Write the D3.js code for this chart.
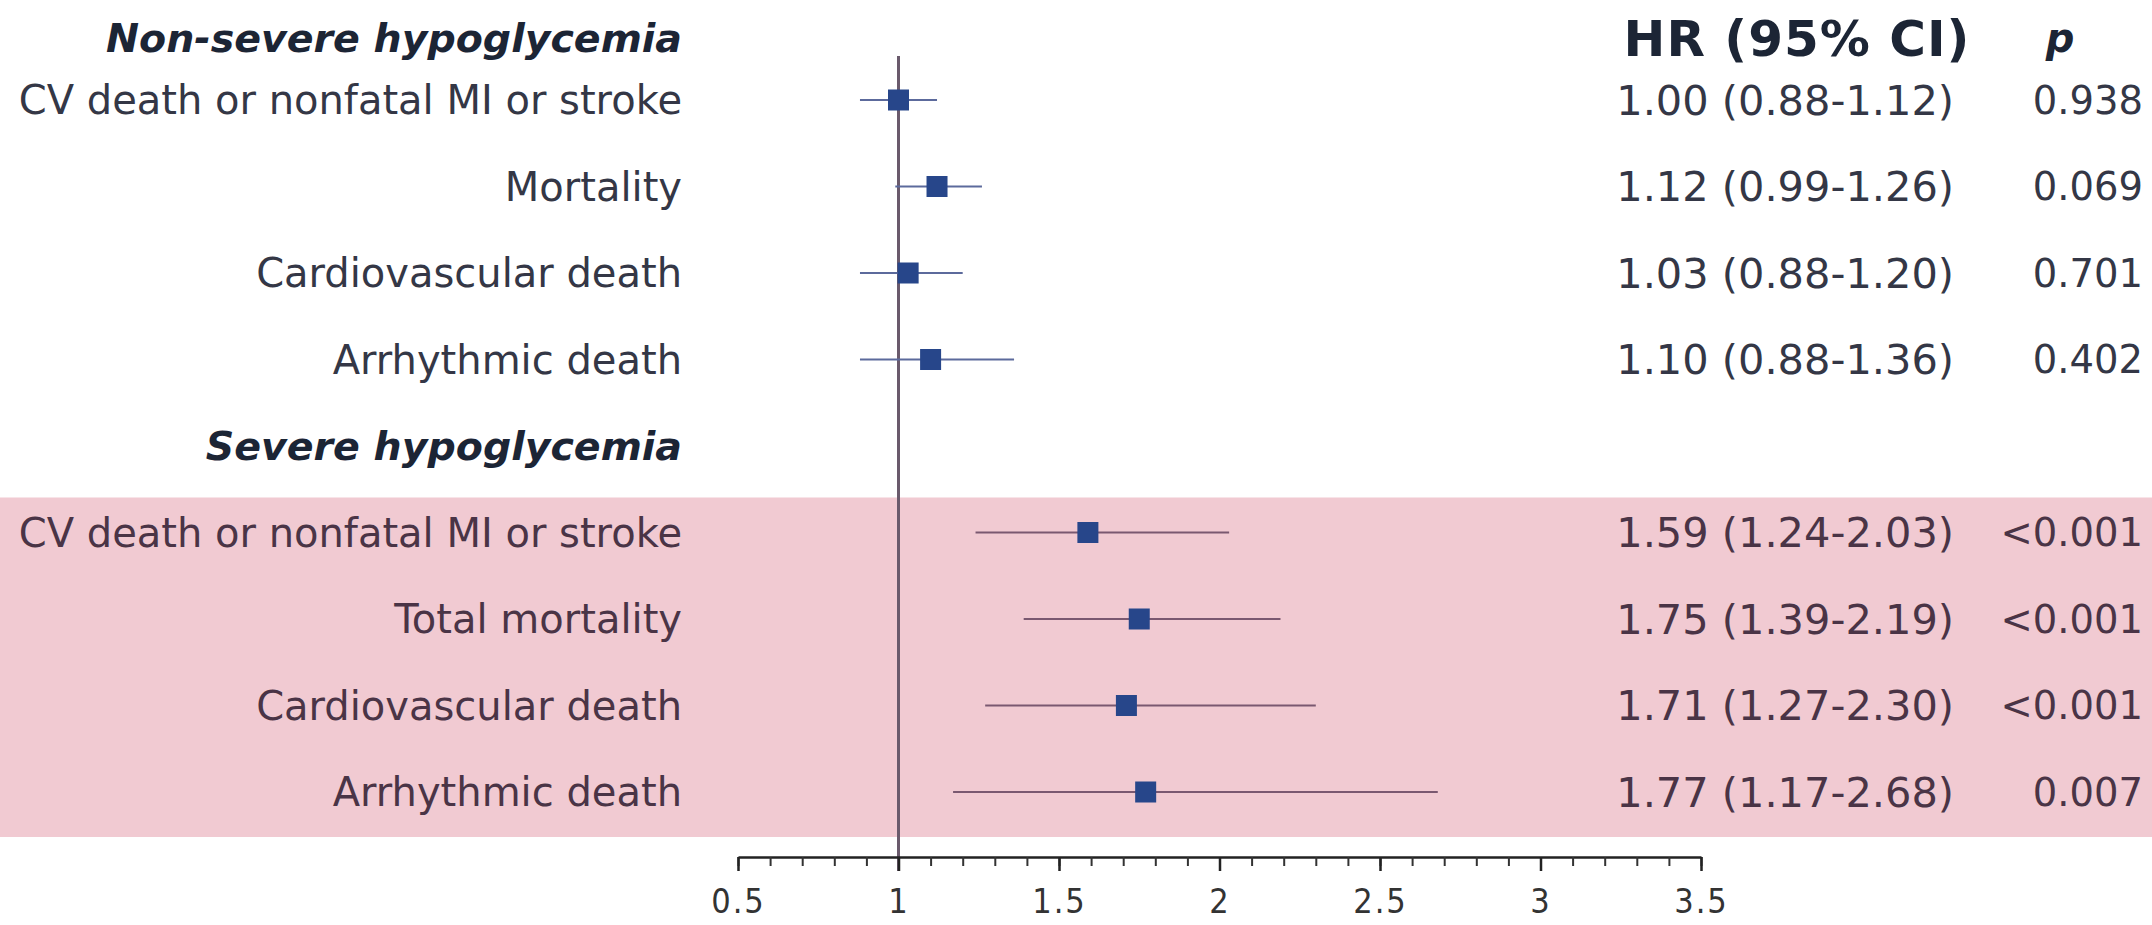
<!DOCTYPE html>
<html>
<head>
<meta charset="utf-8">
<script src="https://cdn.jsdelivr.net/npm/d3@7"></script>
<style>
  html, body { margin: 0; padding: 0; background: #ffffff; }
  svg { display: block; }
</style>
</head>
<body>
<svg id="chart" width="2152" height="925"></svg>
<script>
// ---- data ----
const groupTitles = ["Non-severe hypoglycemia", "Severe hypoglycemia"];
const nonSevereLabels = ["CV death or nonfatal MI or stroke", "Mortality", "Cardiovascular death", "Arrhythmic death"];
const severeLabels = ["CV death or nonfatal MI or stroke", "Total mortality", "Cardiovascular death", "Arrhythmic death"];
const hrValues = [1.00, 1.12, 1.03, 1.10, 1.59, 1.75, 1.71, 1.77];
const lowerCI  = [0.88, 0.99, 0.88, 0.88, 1.24, 1.39, 1.27, 1.17];
const upperCI  = [1.12, 1.26, 1.20, 1.36, 2.03, 2.19, 2.30, 2.68];
const pValues  = ["0.938", "0.069", "0.701", "0.402", "<0.001", "<0.001", "<0.001", "0.007"];
const tickValues = [0.5, 1, 1.5, 2, 2.5, 3, 3.5];
const tickLabels = ["0.5", "1", "1.5", "2", "2.5", "3", "3.5"];
const columnHeaders = ["HR (95% CI)", "p"];

// ---- layout ----
const W = 2152, H = 925;
const svg = d3.select("#chart");
const fontBody = "'DejaVu Sans', Verdana, sans-serif";

const rows = [];
nonSevereLabels.forEach((l, i) => rows.push({key: "a" + i, label: l, idx: i, group: 0}));
rows.push({key: "h2", header: groupTitles[1]});
severeLabels.forEach((l, i) => rows.push({key: "b" + i, label: l, idx: i + 4, group: 1}));

const y = d3.scalePoint().domain(rows.map(r => r.key)).range([100, 792]);
const headerY = y(rows[0].key) - 62;
const x = d3.scaleLinear().domain([0.5, 3.5]).range([738, 1701]);
const axisY = 857;

const dataRows = rows.filter(r => r.label !== undefined);
const fmt = d3.format(".2f");

// pink band behind severe rows
const severeRows = dataRows.filter(r => r.group === 1);
svg.append("rect")
  .attr("x", 0).attr("width", W)
  .attr("y", y(severeRows[0].key) - 35)
  .attr("height", y(severeRows[severeRows.length - 1].key) + 45 - (y(severeRows[0].key) - 35))
  .attr("fill", "#f1cad2");

// reference line at HR = 1
svg.append("line")
  .attr("x1", x(1)).attr("x2", x(1))
  .attr("y1", 56).attr("y2", axisY + 14)
  .attr("stroke", "#6a5a6c").attr("stroke-width", 3);

// axis: minor ticks
const minorTicks = d3.range(5, 36).map(v => v / 10);
const minorAxis = d3.axisBottom(x).tickValues(minorTicks).tickSize(9).tickSizeOuter(0).tickFormat("");
const gMinor = svg.append("g").attr("transform", `translate(0,${axisY})`).call(minorAxis);
gMinor.select(".domain").attr("stroke", "#222").attr("stroke-width", 2.5);
gMinor.selectAll(".tick line").attr("stroke", "#333").attr("stroke-width", 2);

const majorAxis = d3.axisBottom(x).tickValues(tickValues).tickSize(14).tickSizeOuter(0)
  .tickFormat((d, i) => tickLabels[i]);
const gMajor = svg.append("g").attr("transform", `translate(0,${axisY})`).call(majorAxis);
gMajor.select(".domain").remove();
gMajor.selectAll(".tick line").attr("stroke", "#222").attr("stroke-width", 2.5);
gMajor.selectAll(".tick text")
  .attr("y", 56).attr("dy", 0)
  .attr("fill", "#333")
  .style("font-family", "'DejaVu Sans Condensed', 'DejaVu Sans', sans-serif")
  .style("font-stretch", "condensed")
  .style("font-size", "34px")
  .style("letter-spacing", "2px");

// CI lines
svg.append("g").selectAll("line").data(dataRows).join("line")
  .attr("x1", d => x(lowerCI[d.idx])).attr("x2", d => x(upperCI[d.idx]))
  .attr("y1", d => y(d.key)).attr("y2", d => y(d.key))
  .attr("stroke", d => d.group === 0 ? "#5c6a9c" : "#7a5870")
  .attr("stroke-width", 2.2);

// markers
const ms = 21;
svg.append("g").selectAll("rect").data(dataRows).join("rect")
  .attr("x", d => x(hrValues[d.idx]) - ms / 2)
  .attr("y", d => y(d.key) - ms / 2)
  .attr("width", ms).attr("height", ms)
  .attr("fill", "#27468a");

// row labels
svg.append("g").selectAll("text").data(dataRows).join("text")
  .attr("x", 682).attr("y", d => y(d.key)).attr("dy", "0.36em")
  .attr("text-anchor", "end")
  .attr("fill", d => d.group === 0 ? "#343746" : "#4a3446")
  .style("font-family", fontBody).style("font-size", "40px")
  .text(d => d.label);

// group headers
svg.append("text")
  .attr("x", 682).attr("y", headerY).attr("dy", "0.36em")
  .attr("text-anchor", "end").attr("fill", "#1c2535")
  .style("font-family", fontBody).style("font-size", "39.5px")
  .style("font-weight", "bold").style("font-style", "italic")
  .text(groupTitles[0]);
svg.append("text")
  .attr("x", 682).attr("y", y("h2")).attr("dy", "0.36em")
  .attr("text-anchor", "end").attr("fill", "#1c2535")
  .style("font-family", fontBody).style("font-size", "39.5px")
  .style("font-weight", "bold").style("font-style", "italic")
  .text(groupTitles[1]);

// column headers
svg.append("text")
  .attr("x", 1797).attr("y", headerY).attr("dy", "0.36em")
  .attr("text-anchor", "middle").attr("fill", "#1c2535")
  .style("font-family", fontBody).style("font-size", "50px")
  .style("font-weight", "bold").style("letter-spacing", "1px")
  .text(columnHeaders[0]);
svg.append("text")
  .attr("x", 2060).attr("y", headerY).attr("dy", "0.36em")
  .attr("text-anchor", "middle").attr("fill", "#1c2535")
  .style("font-family", fontBody).style("font-size", "40px")
  .style("font-weight", "bold").style("font-style", "italic")
  .text(columnHeaders[1]);

// HR text
svg.append("g").selectAll("text").data(dataRows).join("text")
  .attr("x", 1954).attr("y", d => y(d.key)).attr("dy", "0.36em")
  .attr("text-anchor", "end")
  .attr("fill", d => d.group === 0 ? "#343746" : "#4a3446")
  .style("font-family", fontBody).style("font-size", "41.5px")
  .text(d => `${fmt(hrValues[d.idx])} (${fmt(lowerCI[d.idx])}-${fmt(upperCI[d.idx])})`);

// p values
svg.append("g").selectAll("text").data(dataRows).join("text")
  .attr("x", 2143).attr("y", d => y(d.key)).attr("dy", "0.36em")
  .attr("text-anchor", "end")
  .attr("fill", d => d.group === 0 ? "#343746" : "#4a3446")
  .style("font-family", fontBody).style("font-size", "38.5px")
  .text(d => pValues[d.idx]);
</script>
</body>
</html>
